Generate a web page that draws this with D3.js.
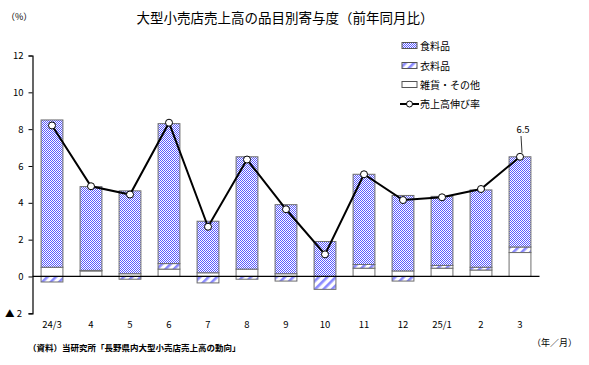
<!DOCTYPE html>
<html><head><meta charset="utf-8">
<script src="https://cdn.jsdelivr.net/npm/d3@7"></script>
<style>
body{margin:0;background:#fff;}
text{font-family:"Noto Sans CJK JP","DejaVu Sans",sans-serif;}
</style></head><body>
<svg id="c" width="589" height="365"></svg>
<script>
const categories = ["24/3","4","5","6","7","8","9","10","11","12","25/1","2","3"];
const food     = [8.0, 4.55, 4.5, 7.6, 2.8, 6.1, 3.75, 1.9, 4.9, 4.1, 3.75, 4.2, 4.9];
const clothing = [-0.3, 0.03, -0.15, 0.3, -0.35, -0.15, -0.25, -0.7, 0.2, -0.25, 0.15, 0.15, 0.3];
const other    = [0.5, 0.3, 0.15, 0.4, 0.2, 0.4, 0.15, 0, 0.45, 0.3, 0.45, 0.35, 1.3];
const growth   = [8.2, 4.9, 4.45, 8.35, 2.7, 6.35, 3.65, 1.2, 5.55, 4.15, 4.3, 4.75, 6.5];
const yTicks = [12, 10, 8, 6, 4, 2, 0, -2];
const seriesNames = ["食料品","衣料品","雑貨・その他","売上高伸び率"];

const svg = d3.select("#c");
const defs = svg.append("defs");
// checker pattern
const pc = defs.append("pattern").attr("id","chk").attr("patternUnits","userSpaceOnUse")
  .attr("width",2).attr("height",2);
pc.append("rect").attr("width",2).attr("height",2).attr("fill","#ffffff");
pc.append("rect").attr("x",0).attr("y",0).attr("width",1).attr("height",1).attr("fill","#5a5aff");
pc.append("rect").attr("x",1).attr("y",1).attr("width",1).attr("height",1).attr("fill","#5a5aff");
// hatch pattern
const ph = defs.append("pattern").attr("id","hat").attr("patternUnits","userSpaceOnUse")
  .attr("width",6).attr("height",6).attr("patternTransform","rotate(45)");
ph.append("rect").attr("width",6).attr("height",6).attr("fill","#ffffff");
ph.append("rect").attr("x",0).attr("y",0).attr("width",2.6).attr("height",6).attr("fill","#8a8aff");

const x0 = 32.5, x1 = 539.5;
const x = d3.scaleBand().domain(categories).range([x0, x1]).paddingInner(0.44).paddingOuter(0.22);
const y = d3.scaleLinear().domain([-2, 12]).range([313.3, 55.5]);

// title
svg.append("text").attr("x",285).attr("y",23).attr("text-anchor","middle")
  .attr("font-size",13.5).text("大型小売店売上高の品目別寄与度（前年同月比）");
svg.append("text").attr("x",6).attr("y",20).attr("font-size",9).text("（%）");
svg.append("text").attr("x",532).attr("y",346).attr("font-size",9).text("（年／月）");
svg.append("text").attr("x",28).attr("y",351).attr("font-size",8.5).attr("font-weight","bold")
  .text("（資料）当研究所「長野県内大型小売店売上高の動向」");

// y axis
const ax = svg.append("g").attr("transform",`translate(${x0},0)`)
  .call(d3.axisLeft(y).tickValues(yTicks).tickSize(4).tickFormat(d => d < 0 ? "" : d));
ax.select(".domain").attr("stroke","#000").attr("stroke-width",1.2);
ax.selectAll(".tick line").attr("stroke","#000");
ax.selectAll(".tick text").attr("font-size",9.5).attr("font-family","Liberation Sans, Arial, sans-serif").attr("fill","#000").attr("x",-9);
svg.append("text").attr("x",22).attr("y",y(-2)+4).attr("text-anchor","end").attr("font-size",9.5)
  .attr("font-family","Liberation Sans, Arial, sans-serif").text("▲ 2");

// stacks
const bw = x.bandwidth();
const g = svg.append("g");
categories.forEach((c,i) => {
  let pos = 0, neg = 0;
  const segs = [[other[i],"#ffffff"],[clothing[i],"url(#hat)"],[food[i],"url(#chk)"]];
  segs.forEach(([v,fill]) => {
    if (v === 0) return;
    let a, b;
    if (v > 0) { a = pos; b = pos + v; pos = b; }
    else { a = neg; b = neg + v; neg = b; }
    g.append("rect").attr("x", x(c)).attr("width", bw)
      .attr("y", y(Math.max(a,b))).attr("height", Math.abs(y(a)-y(b)))
      .attr("fill", fill).attr("stroke","#6e6e6e").attr("stroke-width",1);
  });
});

// x axis line at zero
svg.append("line").attr("x1",x0).attr("x2",x1).attr("y1",y(0)).attr("y2",y(0))
  .attr("stroke","#000").attr("stroke-width",1.2);

// x labels
categories.forEach(c => {
  svg.append("text").attr("x", x(c)+bw/2).attr("y",328).attr("text-anchor","middle")
    .attr("font-size",9.5).attr("font-family","Liberation Sans, Arial, sans-serif").text(c);
});

// line
const line = d3.line().x((d,i)=>x(categories[i])+bw/2).y(d=>y(d));
svg.append("path").attr("d", line(growth)).attr("fill","none").attr("stroke","#000").attr("stroke-width",2);
svg.selectAll("circle.pt").data(growth).enter().append("circle")
  .attr("cx",(d,i)=>x(categories[i])+bw/2).attr("cy",d=>y(d)).attr("r",3.5)
  .attr("fill","#fff").attr("stroke","#000").attr("stroke-width",1);

// last label
const li = categories.length-1;
const lx = x(categories[li])+bw/2;
svg.append("line").attr("x1",lx+2).attr("x2",lx+1).attr("y1",y(growth[li])-4).attr("y2",136)
  .attr("stroke","#000").attr("stroke-width",0.8);
svg.append("text").attr("x",lx+3).attr("y",133).attr("text-anchor","middle").attr("font-size",9.5)
  .attr("font-family","Liberation Sans, Arial, sans-serif").text(growth[li].toFixed(1));

// legend
const lg = svg.append("g");
const ly = [46, 66, 85, 104];
const fills = ["url(#chk)","url(#hat)","#ffffff"];
seriesNames.forEach((n,i) => {
  if (i < 3) {
    lg.append("rect").attr("x",402).attr("y",ly[i]-3.5).attr("width",15).attr("height",6)
      .attr("fill",fills[i]).attr("stroke","#555").attr("stroke-width",1);
  } else {
    lg.append("line").attr("x1",400).attr("x2",419).attr("y1",ly[i]).attr("y2",ly[i]).attr("stroke","#000").attr("stroke-width",2);
    lg.append("circle").attr("cx",409.5).attr("cy",ly[i]).attr("r",3).attr("fill","#fff").attr("stroke","#000");
  }
  lg.append("text").attr("x",420).attr("y",ly[i]+4).attr("font-size",10).text(n);
});
</script>
</body></html>
